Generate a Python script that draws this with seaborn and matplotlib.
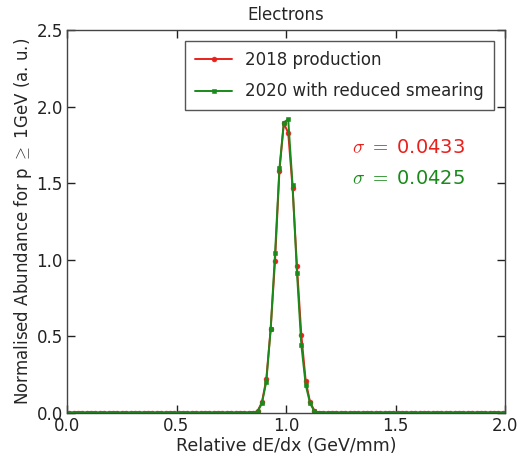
import numpy as np
import pandas as pd
import matplotlib
matplotlib.use("Agg")
import matplotlib.pyplot as plt
import seaborn as sns

# bin centres of a 100-bin histogram on [0, 2]
bin_centres = np.round(np.arange(0.01, 2.0, 0.02), 2)

# peak region 0.83 .. 1.17 (18 bins), zero elsewhere
peak_2018 = [0.001, 0.003, 0.012, 0.070, 0.220, 0.550, 0.995, 1.580, 1.890,
             1.830, 1.470, 0.960, 0.510, 0.210, 0.070, 0.015, 0.003, 0.001]
peak_2020 = [0.001, 0.002, 0.008, 0.063, 0.204, 0.546, 1.042, 1.597, 1.895,
             1.919, 1.488, 0.916, 0.444, 0.183, 0.063, 0.010, 0.002, 0.001]
values_2018 = [0.0] * 41 + peak_2018 + [0.0] * 41
values_2020 = [0.0] * 41 + peak_2020 + [0.0] * 41

labels = ["2018 production", "2020 with reduced smearing"]
sigma_texts = [r"$\sigma\ =\ $0.0433", r"$\sigma\ =\ $0.0425"]
colors = ["#e8201c", "#1a8a1a"]
xticks = [0.0, 0.5, 1.0, 1.5, 2.0]
yticks = [0.0, 0.5, 1.0, 1.5, 2.0, 2.5]

df = pd.DataFrame({
    "x": np.concatenate([bin_centres, bin_centres]),
    "y": values_2018 + values_2020,
    "sample": [labels[0]] * len(bin_centres) + [labels[1]] * len(bin_centres),
})

sns.set_style("ticks")
plt.rcParams["font.family"] = ["DejaVu Sans"]
plt.rcParams["mathtext.fontset"] = "cm"

fig = plt.figure(figsize=(5.2, 4.61), dpi=100)
ax = fig.add_axes([67 / 520, 1 - 413 / 461, (505 - 67) / 520, (413 - 30) / 461])

sns.lineplot(data=df, x="x", y="y", hue="sample", style="sample",
             palette=colors, markers=["o", "s"], dashes=False,
             markersize=3.5, linewidth=1.4, markeredgewidth=0.4,
             markeredgecolor=None, ax=ax)
for line, c in zip(ax.get_lines(), colors):
    line.set_markeredgecolor(c)

ax.set_xlim(0, 2.0)
ax.set_ylim(0, 2.5)
ax.set_xticks(xticks)
ax.set_yticks(yticks)
ax.tick_params(direction="in", length=6, width=1.0, top=True, right=True,
               labelsize=12, colors="#222222", pad=3)
for sp in ax.spines.values():
    sp.set_color("#444444")
    sp.set_linewidth(1.0)

ax.set_xlabel("Relative dE/dx (GeV/mm)", fontsize=12.5, labelpad=1)
ax.set_ylabel(r"Normalised Abundance for p $\geq$ 1GeV (a. u.)", fontsize=12, labelpad=2)
ax.set_title("Electrons", fontsize=12, pad=7)

leg = ax.legend(loc="upper right", fontsize=12, frameon=True, fancybox=False,
                edgecolor="#555555", framealpha=1, borderpad=0.6,
                labelspacing=0.8, handlelength=2.2, borderaxespad=0,
                bbox_to_anchor=(0.975, 0.971))
leg.get_frame().set_linewidth(1.0)
for h in leg.legend_handles:
    h.set_markersize(3.5)

ax.text(1.30, 1.73, sigma_texts[0], color=colors[0], fontsize=14, va="center")
ax.text(1.30, 1.53, sigma_texts[1], color=colors[1], fontsize=14, va="center")

fig.savefig("out.png", dpi=100)
